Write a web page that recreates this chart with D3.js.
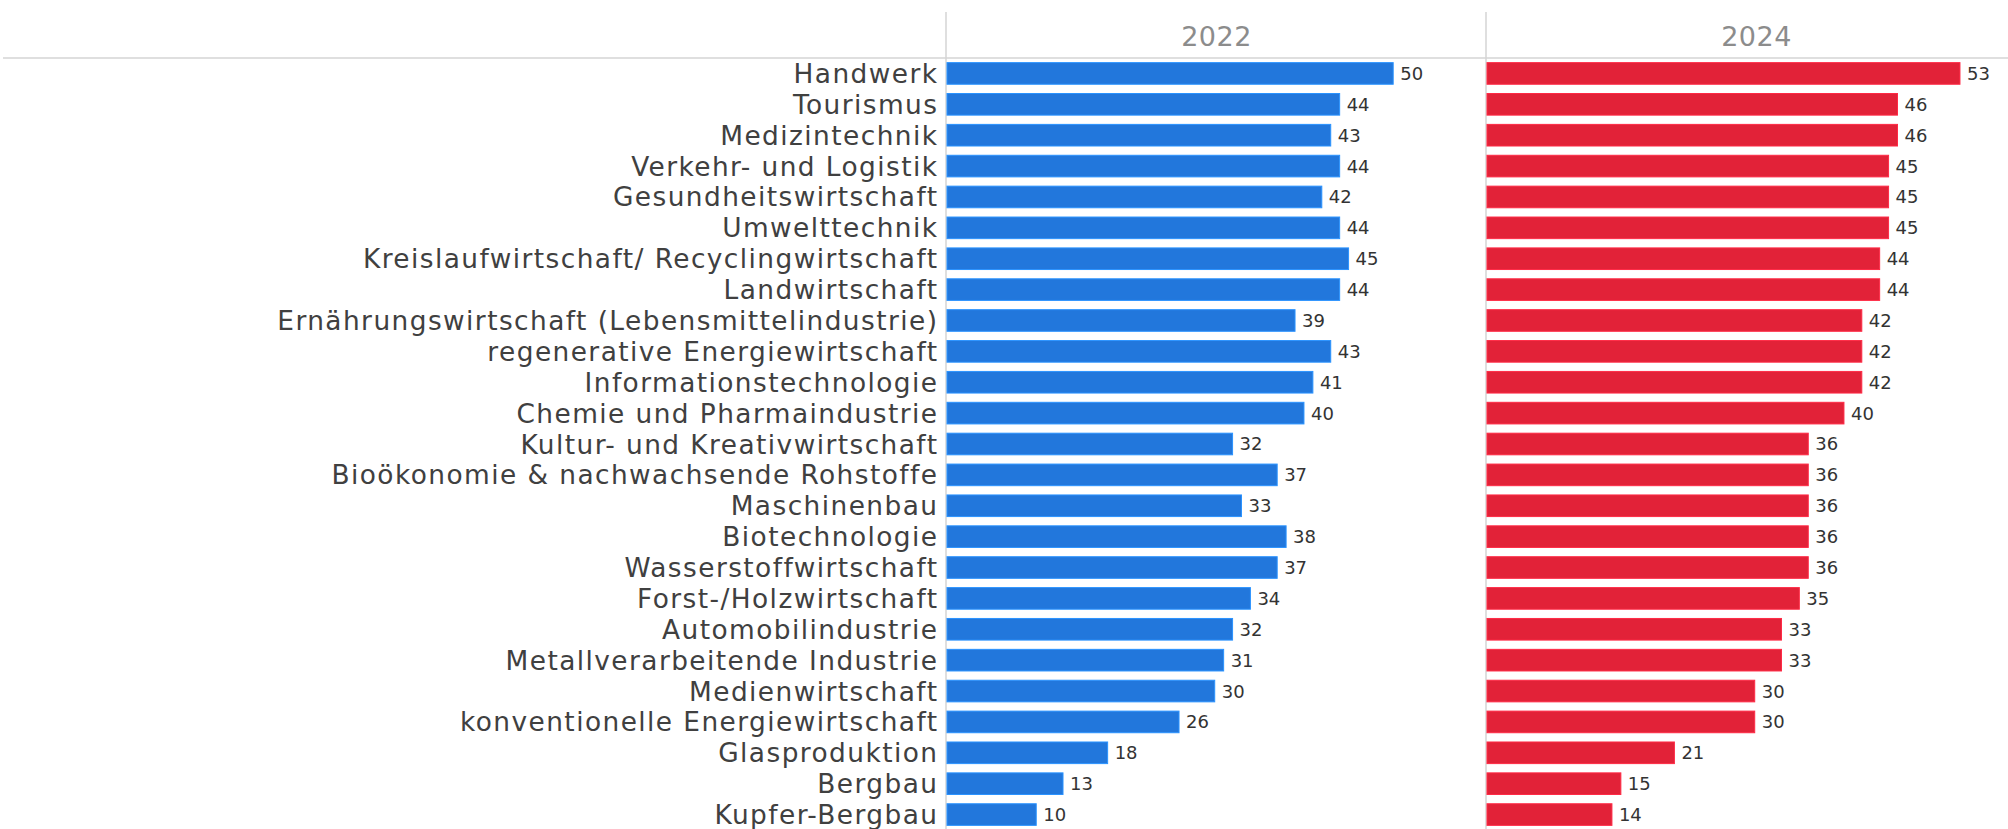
<!DOCTYPE html>
<html>
<head>
<meta charset="utf-8">
<script src="https://cdn.jsdelivr.net/npm/d3@7"></script>
<style>
  body { margin: 0; background: #fff; }
  .catText { font-family: "DejaVu Sans", sans-serif; fill: #404040; }
  .valText { font-family: "DejaVu Sans", sans-serif; font-size: 18px; fill: #333; }
  .yearText { font-family: "DejaVu Sans", sans-serif; font-size: 27px; fill: #8c8c8c; letter-spacing: 0.5px; }
</style>
</head>
<body>
<div id="chart"></div>
<script>
// data
var categories = ["Handwerk", "Tourismus", "Medizintechnik", "Verkehr- und Logistik",
  "Gesundheitswirtschaft", "Umwelttechnik", "Kreislaufwirtschaft/ Recyclingwirtschaft",
  "Landwirtschaft", "Ernährungswirtschaft (Lebensmittelindustrie)", "regenerative Energiewirtschaft",
  "Informationstechnologie", "Chemie und Pharmaindustrie", "Kultur- und Kreativwirtschaft",
  "Bioökonomie & nachwachsende Rohstoffe", "Maschinenbau", "Biotechnologie",
  "Wasserstoffwirtschaft", "Forst-/Holzwirtschaft", "Automobilindustrie",
  "Metallverarbeitende Industrie", "Medienwirtschaft", "konventionelle Energiewirtschaft",
  "Glasproduktion", "Bergbau", "Kupfer-Bergbau"];
var values2022 = [50, 44, 43, 44, 42, 44, 45, 44, 39, 43, 41, 40, 32, 37, 33, 38, 37, 34, 32, 31, 30, 26, 18, 13, 10];
var values2024 = [53, 46, 46, 45, 45, 45, 44, 44, 42, 42, 42, 40, 36, 36, 36, 36, 36, 35, 33, 33, 30, 30, 21, 15, 14];
var years = ["2022", "2024"];
var colors = ["#2277dc", "#e22238"];

var svgWidth = 2008;
var svgHeight = 829;

var svg = d3.select("#chart")
            .append("svg")
            .attr("width", svgWidth)
            .attr("height", svgHeight);

// layout
var headerY = 58;
var labelRight = 937;
var panelLeft = [947, 1487];
var panelWidth = 539;

var yScale = d3.scaleBand()
               .domain(categories)
               .range([headerY, headerY + 25 * 30.88])
               .paddingInner(0.3)
               .paddingOuter(0.15);

var xScale = d3.scaleLinear()
               .domain([0, 60.4])
               .range([0, panelWidth]);

// grid lines
svg.append("line")
   .attr("x1", 3).attr("x2", svgWidth)
   .attr("y1", headerY).attr("y2", headerY)
   .attr("stroke", "#d4d4d4").attr("stroke-width", 1.5);

panelLeft.forEach(function(px) {
  svg.append("line")
     .attr("x1", px - 1).attr("x2", px - 1)
     .attr("y1", 12).attr("y2", svgHeight)
     .attr("stroke", "#d4d4d4").attr("stroke-width", 1.5);
});

// category labels: font capped to keep rows apart, spacing widens the longest to the picture's span
var fontSize = 26.4;
var labelGroup = svg.append("g");
var catLabels = labelGroup.selectAll("text")
  .data(categories)
  .enter()
  .append("text")
  .classed("catText", true)
  .attr("x", labelRight)
  .attr("y", d => yScale(d) + yScale.bandwidth() / 2)
  .attr("dy", "0.36em")
  .attr("text-anchor", "end")
  .style("font-size", fontSize + "px")
  .text(d => d);

var longestNode = catLabels.nodes().reduce((a, b) => a.getComputedTextLength() > b.getComputedTextLength() ? a : b);
var spacing = Math.max(0, (661 - longestNode.getComputedTextLength()) / longestNode.textContent.length);
catLabels.style("letter-spacing", spacing.toFixed(2) + "px")
         .attr("x", labelRight + spacing);

// panels
[values2022, values2024].forEach(function(vals, i) {
  var g = svg.append("g")
             .attr("transform", `translate(${panelLeft[i]}, 0)`);

  g.append("text")
   .classed("yearText", true)
   .attr("x", panelWidth / 2)
   .attr("y", 46)
   .attr("text-anchor", "middle")
   .text(years[i]);

  g.selectAll("rect")
   .data(vals)
   .enter()
   .append("rect")
   .attr("x", 0)
   .attr("y", (d, j) => yScale(categories[j]))
   .attr("width", d => xScale(d))
   .attr("height", yScale.bandwidth())
   .attr("fill", colors[i])
   .attr("stroke", d3.color(colors[i]).brighter(0.6))
   .attr("stroke-width", 1);

  g.selectAll(".valText")
   .data(vals)
   .enter()
   .append("text")
   .classed("valText", true)
   .attr("x", d => xScale(d) + 7)
   .attr("y", (d, j) => yScale(categories[j]) + yScale.bandwidth() / 2)
   .attr("dy", "0.36em")
   .text(d => d);
});
</script>
</body>
</html>
